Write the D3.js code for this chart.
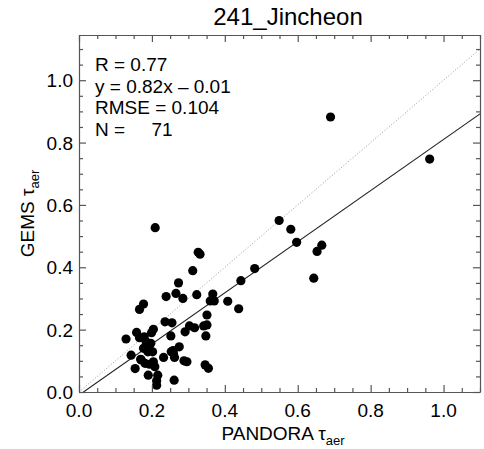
<!DOCTYPE html>
<html>
<head>
<meta charset="utf-8">
<script src="https://cdn.jsdelivr.net/npm/d3@7"></script>
<style>
  body { margin: 0; background: #fff; }
  svg { display: block; font-family: "Liberation Sans", Arial, sans-serif; }
</style>
</head>
<body>
<div id="chart"></div>
<script>
/* data */
var pandora = [
  0.209, 0.129, 0.143, 0.154, 0.158, 0.166, 0.177, 0.166, 0.179, 0.169,
  0.177, 0.181, 0.184, 0.189, 0.190, 0.193, 0.197, 0.199, 0.204, 0.202,
  0.204, 0.208, 0.216, 0.213, 0.213, 0.232, 0.239, 0.236, 0.255, 0.252,
  0.253, 0.259, 0.262, 0.261, 0.266, 0.273, 0.275, 0.285, 0.291, 0.288,
  0.296, 0.303, 0.312, 0.317, 0.323, 0.327, 0.332, 0.342, 0.351, 0.351,
  0.348, 0.346, 0.355, 0.360, 0.367, 0.371, 0.408, 0.438, 0.444, 0.482,
  0.690, 0.962, 0.549, 0.581, 0.597, 0.666, 0.653, 0.644, 0.192, 0.171,
  0.258
];
var gems = [
  0.527, 0.170, 0.118, 0.075, 0.191, 0.265, 0.282, 0.174, 0.177, 0.105,
  0.140, 0.092, 0.161, 0.129, 0.054, 0.089, 0.156, 0.190, 0.201, 0.129,
  0.097, 0.081, 0.054, 0.036, 0.022, 0.111, 0.306, 0.225, 0.222, 0.180,
  0.129, 0.124, 0.111, 0.038, 0.316, 0.350, 0.145, 0.300, 0.193, 0.100,
  0.097, 0.212, 0.389, 0.206, 0.312, 0.448, 0.442, 0.212, 0.215, 0.247,
  0.180, 0.087, 0.076, 0.292, 0.314, 0.292, 0.291, 0.267, 0.357, 0.396,
  0.882, 0.747, 0.550, 0.522, 0.480, 0.471, 0.451, 0.365, 0.141, 0.103,
  0.133
];
var majorTicks = [0, 0.2, 0.4, 0.6, 0.8, 1.0];
var statLines = ["R = 0.77", "y = 0.82x \u2013 0.01", "RMSE = 0.104", "N =     71"];
var fitSlope = 0.82, fitIntercept = -0.01;
var title = "241_Jincheon";

var W = 484, H = 449;
var m = { left: 79, right: 480, top: 35, bottom: 392 };

var x = d3.scaleLinear().domain([0, 1.1]).range([m.left, m.right]);
var y = d3.scaleLinear().domain([0, 1.145]).range([m.bottom, m.top]);

var svg = d3.select("#chart").append("svg")
  .attr("width", W).attr("height", H);

svg.append("defs").append("clipPath").attr("id", "plotclip")
  .append("rect")
  .attr("x", m.left).attr("y", m.top)
  .attr("width", m.right - m.left).attr("height", m.bottom - m.top);

var plot = svg.append("g").attr("clip-path", "url(#plotclip)");

/* 1:1 line */
plot.append("line")
  .attr("x1", x(0)).attr("y1", y(0))
  .attr("x2", x(1.1)).attr("y2", y(1.1))
  .attr("stroke", "#999").attr("stroke-width", 1)
  .attr("stroke-dasharray", "1,2");

/* fit line */
var x0 = -fitIntercept / fitSlope;
plot.append("line")
  .attr("x1", x(x0)).attr("y1", y(fitSlope * x0 + fitIntercept))
  .attr("x2", x(1.1)).attr("y2", y(fitSlope * 1.1 + fitIntercept))
  .attr("stroke", "#222").attr("stroke-width", 1.1);

/* points */
plot.selectAll("circle.pt")
  .data(pandora.map((d, i) => ({ px: d, gy: gems[i] })))
  .enter().append("circle")
  .attr("class", "pt")
  .attr("cx", d => x(d.px))
  .attr("cy", d => y(d.gy))
  .attr("r", 4.6)
  .attr("fill", "#000");

/* axes: box with inward ticks on all four sides */
var minorX = d3.range(0, 1.1001, 0.05);
var minorY = d3.range(0, 1.1001, 0.05);
var axisColor = "#555";

function tickSize(v) {
  return Math.abs(v * 5 - Math.round(v * 5)) < 1e-6 ? 7 : 4;
}

var xb = svg.append("g").attr("transform", `translate(0,${m.bottom})`)
  .call(d3.axisBottom(x).tickValues(minorX).tickSizeInner(0).tickSizeOuter(0).tickFormat(""));
var xt = svg.append("g").attr("transform", `translate(0,${m.top})`)
  .call(d3.axisTop(x).tickValues(minorX).tickSizeInner(0).tickSizeOuter(0).tickFormat(""));
var yl = svg.append("g").attr("transform", `translate(${m.left},0)`)
  .call(d3.axisLeft(y).tickValues(minorY).tickSizeInner(0).tickSizeOuter(0).tickFormat(""));
var yr = svg.append("g").attr("transform", `translate(${m.right},0)`)
  .call(d3.axisRight(y).tickValues(minorY).tickSizeInner(0).tickSizeOuter(0).tickFormat(""));

xb.selectAll(".tick line").attr("y2", d => -tickSize(d));
xt.selectAll(".tick line").attr("y2", d => tickSize(d));
yl.selectAll(".tick line").attr("x2", d => tickSize(d));
yr.selectAll(".tick line").attr("x2", d => -tickSize(d));

svg.selectAll(".domain, .tick line").attr("stroke", axisColor).attr("stroke-width", 1.2);

/* tick labels */
svg.append("g").selectAll("text")
  .data(majorTicks).enter().append("text")
  .attr("x", d => x(d)).attr("y", m.bottom + 25)
  .attr("text-anchor", "middle")
  .attr("font-size", 19)
  .text(d3.format(".1f"));

svg.append("g").selectAll("text")
  .data(majorTicks).enter().append("text")
  .attr("x", m.left - 6).attr("y", d => y(d) + 7)
  .attr("text-anchor", "end")
  .attr("font-size", 19)
  .text(d3.format(".1f"));

/* title */
svg.append("text")
  .attr("x", 288).attr("y", 25)
  .attr("text-anchor", "middle")
  .attr("font-size", 24)
  .text(title);

/* stats */
svg.append("g").selectAll("text")
  .data(statLines).enter().append("text")
  .attr("x", 95).attr("y", (d, i) => 71 + i * 21.6)
  .attr("font-size", 19)
  .style("white-space", "pre")
  .attr("xml:space", "preserve")
  .text(d => d);

/* axis titles */
var xl = svg.append("text")
  .attr("x", 283).attr("y", 440)
  .attr("text-anchor", "middle")
  .attr("font-size", 19);
xl.append("tspan").text("PANDORA \u03c4");
xl.append("tspan").attr("font-size", 13).attr("dy", 5).text("aer");

var ylab = svg.append("text")
  .attr("transform", `translate(34,${(m.top + m.bottom) / 2}) rotate(-90)`)
  .attr("text-anchor", "middle")
  .attr("font-size", 19);
ylab.append("tspan").text("GEMS \u03c4");
ylab.append("tspan").attr("font-size", 13).attr("dy", 5).text("aer");
</script>
</body>
</html>
